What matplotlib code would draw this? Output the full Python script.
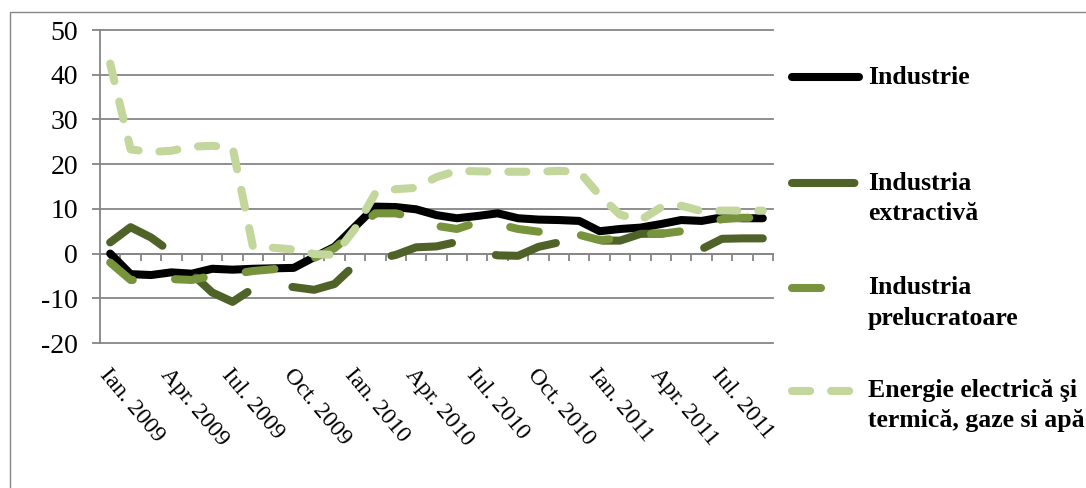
import matplotlib
matplotlib.use("Agg")
import matplotlib.pyplot as plt
import matplotlib.transforms as mtransforms
from matplotlib.lines import Line2D
from matplotlib.patches import Rectangle
import numpy as np

plt.rcParams["axes.unicode_minus"] = False

W, H = 1086, 488

month_names = ["Ian.", "Feb.", "Mar.", "Apr.", "Mai", "Iun.",
               "Iul.", "Aug.", "Sep.", "Oct.", "Nov.", "Dec."]
months = [f"{month_names[k % 12]} {2009 + k // 12}" for k in range(33)]

industrie = [0, -4.6, -4.8, -4.2, -4.5, -3.4, -3.6, -3.4, -3.3, -3.2, -0.8,
             1.5, 6.0, 10.5, 10.4, 9.9, 8.6, 7.9, 8.4, 9.0, 7.9, 7.6, 7.5,
             7.3, 5.0, 5.5, 5.8, 6.6, 7.5, 7.3, 8.1, 7.9, 7.9]
extractiva = [2.5, 5.9, 3.6, 0.3, -4.5, -8.7, -10.8, -7.8, -7.0, -7.5, -8.1,
              -6.8, -2.5, -1.3, -0.3, 1.4, 1.6, 2.6, 0.5, -0.4, -0.5, 1.5,
              2.5, 2.8, 2.9, 2.9, 4.4, 4.5, 4.5, 1.0, 3.3, 3.4, 3.4]
prelucratoare = [-2.0, -5.9, -6.0, -5.7, -5.9, -5.0, -4.6, -3.9, -3.5, -2.5,
                 -1.0, 1.2, 5.0, 9.0, 9.0, 8.0, 6.2, 5.5, 7.0, 6.6, 5.5, 4.9,
                 4.4, 4.2, 3.0, 3.4, 4.4, 4.4, 5.0, 6.3, 7.7, 8.0, 8.0]
energie = [42.5, 23.3, 22.7, 23.0, 23.9, 24.1, 23.8, 1.5, 1.3, 0.9, -0.1,
           -0.3, 5.5, 13.5, 14.4, 14.7, 17.1, 18.5, 18.4, 18.3, 18.3, 18.3,
           18.5, 18.3, 13.0, 8.7, 7.5, 10.3, 10.7, 9.5, 9.6, 9.6, 9.6]

labels = ["Industrie", "Industria\nextractivă", "Industria\nprelucratoare",
          "Energie electrică şi\ntermică, gaze si apă"]
colors = ["#000000", "#4F6228", "#77933C", "#C3D69B"]
styles = ["-", (0, (7.75, 5.75)), (0, (3.6, 5.25)), (0, (2.25, 2.6))]

GRID = "#868686"
LW = 5.8
SERIF = "Liberation Serif"

fig = plt.figure(figsize=(W / 100, H / 100), dpi=100)
fig.patch.set_facecolor("white")
ax = fig.add_axes([100 / W, 1 - 343 / H, 673 / W, 313 / H])

x = np.arange(len(months))
for vals, c, ls in zip([industrie, extractiva, prelucratoare, energie], colors, styles):
    ax.plot(x, vals, color=c, lw=LW, linestyle=ls, solid_capstyle="round",
            dash_capstyle="round", solid_joinstyle="round", dash_joinstyle="round",
            zorder=3)

ax.set_xlim(-0.5, len(months) - 0.5)
ax.set_ylim(-20, 50)
ax.set_yticks(range(-20, 51, 10))
ax.grid(axis="y", color=GRID, lw=1.3)
ax.set_axisbelow(True)
for gl in ax.get_ygridlines():
    gl.set_clip_on(False)

for s in ["top", "right"]:
    ax.spines[s].set_visible(False)
ax.spines["left"].set_color(GRID)
ax.spines["left"].set_linewidth(1.3)
ax.spines["bottom"].set_position(("data", 0))
ax.spines["bottom"].set_color(GRID)
ax.spines["bottom"].set_linewidth(1.3)

ax.set_xticks([])
ax.set_xticks(np.arange(-0.5, len(months), 1), minor=True)
ax.tick_params(axis="x", which="minor", direction="out", length=5, width=1.3,
               color=GRID)
ax.tick_params(axis="y", direction="out", length=5.8, width=1.3, color=GRID,
               labelsize=20, pad=10)
for t in ax.get_yticklabels():
    t.set_fontfamily(SERIF)

trans = mtransforms.blended_transform_factory(ax.transData, ax.transAxes)
for i in x[::3]:
    ax.text(i + 0.05, -0.07, months[i], transform=trans, rotation=-50,
            rotation_mode="anchor", ha="left", va="top", fontsize=17,
            fontfamily=SERIF)

# legend, drawn by hand so the sample sits on the first text line
rows = [77, 183, 288, 391]
for lab, c, ls, y in zip(labels, colors, styles, rows):
    fig.add_artist(Line2D([792 / W, 859 / W], [1 - y / H, 1 - y / H],
                          transform=fig.transFigure, color=c, lw=LW,
                          linestyle=ls, solid_capstyle="round",
                          dash_capstyle="round"))
    for k, line in enumerate(lab.split("\n")):
        fig.text(868 / W, 1 - (y + 30 * k) / H, line, ha="left", va="center",
                 fontsize=18.5, fontweight="bold", fontfamily=SERIF)

# chart area border
fig.add_artist(Rectangle((10 / W, -0.1), 1.2, 1.1 - 12 / H, transform=fig.transFigure,
                         fill=False, edgecolor=GRID, lw=1.0))

fig.savefig("out.png", dpi=100, facecolor="white")
